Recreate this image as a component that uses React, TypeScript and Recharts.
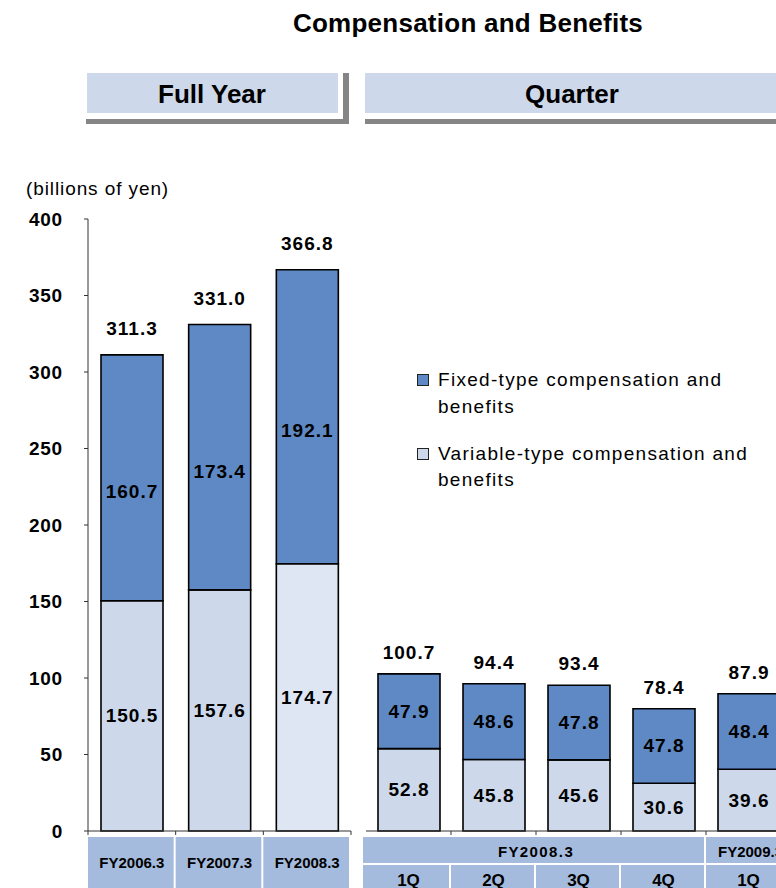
import React from 'react';
import { BarChart, Bar, XAxis, YAxis, LabelList, Legend, Cell } from 'recharts';

const FONT = '"Liberation Sans", Arial, Helvetica, sans-serif';

// ---------- data ----------
const yearCategories = ['FY2006.3', 'FY2007.3', 'FY2008.3'];
const yearVariable = [150.5, 157.6, 174.7];
const yearFixed = [160.7, 173.4, 192.1];
const yearTotals = ['311.3', '331.0', '366.8'];

const quarterNames = ['1Q', '2Q', '3Q', '4Q', '1Q'];
const quarterFiscalYears = ['FY2008.3', 'FY2008.3', 'FY2008.3', 'FY2008.3', 'FY2009.3'];
const quarterVariable = [52.8, 45.8, 45.6, 30.6, 39.6];
const quarterFixed = [47.9, 48.6, 47.8, 47.8, 48.4];
const quarterTotals = ['100.7', '94.4', '93.4', '78.4', '87.9'];

const yTicks = [0, 50, 100, 150, 200, 250, 300, 350, 400];

const FIXED_NAME = 'Fixed-type compensation and benefits';
const VARIABLE_NAME = 'Variable-type compensation and benefits';

// ---------- style ----------
const FIXED_COLOR = '#5f89c4';
const VARIABLE_COLOR = '#cdd9ea';
const VARIABLE_LATEST_COLOR = '#dde6f2';
const HEADER_FILL = '#cdd9ea';
const CATEGORY_FILL = '#a5bbdd';
const SHADOW = '#858585';
const AXIS = '#333';

const yearData = yearCategories.map((c, i) => ({
  key: c,
  variable: yearVariable[i],
  fixed: yearFixed[i],
  total: yearTotals[i],
}));
const variableFills = yearCategories.map((_, i) =>
  i === yearCategories.length - 1 ? VARIABLE_LATEST_COLOR : VARIABLE_COLOR
);

const quarterData = quarterNames.map((q, i) => ({
  key: `${quarterFiscalYears[i]} ${q}`,
  quarter: q,
  fy: quarterFiscalYears[i],
  variable: quarterVariable[i],
  fixed: quarterFixed[i],
  total: quarterTotals[i],
}));

// ---------- layout ----------
const H = 888;
const LEFT_W = 360;
const LEFT_MARGIN = { top: 219, right: 9, bottom: 0, left: 0 };
const LEFT_YAXIS_W = 88;
const LEFT_BAND = (LEFT_W - LEFT_MARGIN.right - LEFT_MARGIN.left - LEFT_YAXIS_W) / yearCategories.length;

const Q_LEFT = 360;
const Q_W = 440;
const Q_MARGIN = { top: 207, right: 9, bottom: 0, left: 6 };
const Q_BAND = (Q_W - Q_MARGIN.left - Q_MARGIN.right) / quarterNames.length;

const getBox = (p: any) => {
  const vb = p.viewBox && typeof p.viewBox.x === 'number' ? p.viewBox : p;
  return { x: Number(vb.x), y: Number(vb.y), w: Number(vb.width), h: Number(vb.height) };
};

const segmentLabel = (shiftY: number) => (p: any) => {
  if (p.value == null) return null;
  const b = getBox(p);
  return (
    <text
      x={b.x + b.w / 2}
      y={b.y + b.h / 2 + shiftY}
      textAnchor="middle"
      dominantBaseline="central"
      fontFamily={FONT}
      fontSize={19}
      fontWeight="bold"
      letterSpacing={1}
      fill="#000"
    >
      {Number(p.value).toFixed(1)}
    </text>
  );
};

const totalLabel = (offset: number) => (p: any) => {
  if (p.value == null) return null;
  const b = getBox(p);
  return (
    <text
      x={b.x + b.w / 2}
      y={b.y - offset}
      textAnchor="middle"
      fontFamily={FONT}
      fontSize={19}
      fontWeight="bold"
      letterSpacing={1}
      fill="#000"
    >
      {p.value}
    </text>
  );
};

const YearTick = (props: any) => {
  const { x, y, payload, index } = props;
  const band = LEFT_BAND;
  const left = x - band / 2;
  return (
    <g>
      <rect x={left} y={y + 6} width={band - 2} height={60} fill={CATEGORY_FILL} />
      {index === 0 && <line x1={left} x2={left} y1={y} y2={y + 4} stroke={AXIS} />}
      <line x1={left + band} x2={left + band} y1={y} y2={y + 4} stroke={AXIS} />
      <text x={x} y={y + 37} textAnchor="middle" fontFamily={FONT} fontSize={15} fontWeight="bold" fill="#000">
        {payload.value}
      </text>
    </g>
  );
};

const QuarterTick = (props: any) => {
  const { x, y, index } = props;
  const d = quarterData[index];
  if (!d) return null;
  const band = Q_BAND;
  const left = x - band / 2;
  const next = quarterData[index + 1];
  const groupEnd = !next || next.fy !== d.fy;
  let count = 0;
  if (groupEnd) {
    for (let k = index; k >= 0 && quarterData[k].fy === d.fy; k--) count++;
  }
  return (
    <g>
      <rect x={left - (index === 0 ? 3 : 0)} y={y + 6} width={band - (groupEnd ? 2 : 0) + (index === 0 ? 3 : 0)} height={26} fill={CATEGORY_FILL} />
      <rect x={left - (index === 0 ? 3 : 0)} y={y + 34} width={band - 2 + (index === 0 ? 3 : 0)} height={40} fill={CATEGORY_FILL} />
      <line x1={left + band} x2={left + band} y1={y} y2={y + 4} stroke={AXIS} />
      {groupEnd && (
        <text
          x={x - ((count - 1) * band) / 2 + (count > 1 ? 0 : 2)}
          y={y + 26}
          textAnchor="middle"
          fontFamily={FONT}
          fontSize={15}
          fontWeight="bold"
          letterSpacing={count > 1 ? 1.4 : 0}
          fill="#000"
        >
          {d.fy}
        </text>
      )}
      <text x={x} y={y + 54.5} textAnchor="middle" fontFamily={FONT} fontSize={17} fontWeight="bold" fill="#000">
        {d.quarter}
      </text>
    </g>
  );
};

const legendOrder = ['fixed', 'variable'];
const renderLegend = (props: any) => {
  const payload = [...(props.payload || [])].sort(
    (a: any, b: any) => legendOrder.indexOf(a.dataKey) - legendOrder.indexOf(b.dataKey)
  );
  return (
    <div style={{ fontFamily: FONT }}>
      {payload.map((p: any, i: number) => (
        <div key={String(p.dataKey)} style={{ display: 'flex', alignItems: 'flex-start', marginTop: i ? 21 : 0 }}>
          <div
            style={{
              width: 10,
              height: 10,
              border: '1px solid #222',
              background: p.color,
              marginTop: 6.6,
              marginRight: 9,
              flex: 'none',
            }}
          />
          <div style={{ fontSize: 19, lineHeight: '26.3px', letterSpacing: 1.3, width: 325, color: '#000' }}>
            {p.value}
          </div>
        </div>
      ))}
    </div>
  );
};

export default function App() {
  return (
    <div
      style={{
        position: 'absolute',
        left: 0,
        top: 0,
        width: 776,
        height: H,
        overflow: 'hidden',
        background: '#fff',
        fontFamily: FONT,
      }}
    >
      <div style={{ position: 'absolute', left: 0, top: 0 }}>
        <BarChart width={LEFT_W} height={H} data={yearData} margin={LEFT_MARGIN} barSize={62}>
          <YAxis
            domain={[0, 400]}
            ticks={yTicks}
            interval={0}
            width={LEFT_YAXIS_W}
            tickSize={4}
            tickMargin={21}
            axisLine={{ stroke: AXIS }}
            tickLine={{ stroke: AXIS }}
            tick={{ fontSize: 19, fontWeight: 'bold', fill: '#000', fontFamily: FONT, letterSpacing: 0.8 }}
          />
          <XAxis
            dataKey="key"
            height={57}
            interval={0}
            tickSize={0}
            tickMargin={0}
            tickLine={false}
            axisLine={{ stroke: AXIS }}
            tick={(p: any) => <YearTick {...p} />}
          />
          <Bar dataKey="variable" stackId="s" name={VARIABLE_NAME} fill={VARIABLE_COLOR} stroke="#000" strokeWidth={1.6} isAnimationActive={false}>
            {yearData.map((d, i) => (
              <Cell key={d.key} fill={variableFills[i]} />
            ))}
            <LabelList dataKey="variable" content={segmentLabel(0)} />
          </Bar>
          <Bar dataKey="fixed" stackId="s" name={FIXED_NAME} fill={FIXED_COLOR} stroke="#000" strokeWidth={1.6} isAnimationActive={false}>
            <LabelList dataKey="fixed" content={segmentLabel(14)} />
            <LabelList dataKey="total" content={totalLabel(20)} />
          </Bar>
        </BarChart>
      </div>

      <div style={{ position: 'absolute', left: Q_LEFT, top: 0 }}>
        <BarChart width={Q_W} height={H} data={quarterData} margin={Q_MARGIN} barSize={62}>
          <YAxis hide domain={[0, 400]} ticks={yTicks} />
          <XAxis
            dataKey="key"
            height={57}
            interval={0}
            tickSize={0}
            tickMargin={0}
            tickLine={false}
            axisLine={{ stroke: AXIS }}
            tick={(p: any) => <QuarterTick {...p} />}
          />
          <Legend
            layout="horizontal"
            verticalAlign="middle"
            align="center"
            content={renderLegend}
            wrapperStyle={{ position: 'absolute', left: 57, top: 367.4, width: 380, height: 130 }}
          />
          <Bar dataKey="variable" stackId="s" name={VARIABLE_NAME} fill={VARIABLE_COLOR} stroke="#000" strokeWidth={1.6} isAnimationActive={false}>
            <LabelList dataKey="variable" content={segmentLabel(0)} />
          </Bar>
          <Bar dataKey="fixed" stackId="s" name={FIXED_NAME} fill={FIXED_COLOR} stroke="#000" strokeWidth={1.6} isAnimationActive={false}>
            <LabelList dataKey="fixed" content={segmentLabel(0)} />
            <LabelList dataKey="total" content={totalLabel(15)} />
          </Bar>
        </BarChart>
      </div>

      <svg
        width={776}
        height={H}
        style={{ position: 'absolute', left: 0, top: 0, pointerEvents: 'none' }}
        fontFamily={FONT}
      >
        <text x={468} y={32} textAnchor="middle" fontSize={26} fontWeight="bold" letterSpacing={0.25} fill="#000">
          Compensation and Benefits
        </text>

        <rect x={87} y={73} width={251} height={40} fill={HEADER_FILL} />
        <rect x={343} y={73} width={6} height={51} fill={SHADOW} />
        <rect x={86} y={119} width={263} height={5} fill={SHADOW} />
        <text x={212} y={103} textAnchor="middle" fontSize={26} fontWeight="bold" fill="#000">
          Full Year
        </text>

        <rect x={365} y={73} width={420} height={40} fill={HEADER_FILL} />
        <rect x={365} y={119} width={420} height={5} fill={SHADOW} />
        <text x={572} y={103} textAnchor="middle" fontSize={26} fontWeight="bold" fill="#000">
          Quarter
        </text>

        <text x={26} y={195} fontSize={19} letterSpacing={0.9} fill="#000">
          (billions of yen)
        </text>
      </svg>
    </div>
  );
}
